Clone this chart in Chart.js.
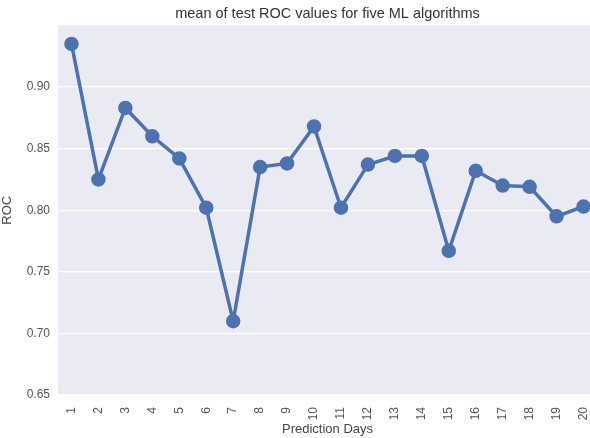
<!DOCTYPE html>
<html>
<head>
<meta charset="utf-8">
<script src="https://cdn.jsdelivr.net/npm/chart.js@4/dist/chart.umd.min.js"></script>
<style>
  html, body { margin: 0; padding: 0; background: #fff; overflow: hidden; }
  #wrap { width: 590px; height: 438px; overflow: hidden; }
  #box { width: 606px; height: 438px; }
</style>
</head>
<body>
<div id="wrap"><div id="box"><canvas id="rocChart"></canvas></div></div>
<script>
const days = ["1","2","3","4","5","6","7","8","9","10","11","12","13","14","15","16","17","18","19","20"];
const meanRoc = [0.935, 0.825, 0.883, 0.860, 0.842, 0.802, 0.710, 0.835, 0.838, 0.868,
                 0.802, 0.837, 0.844, 0.844, 0.767, 0.832, 0.820, 0.819, 0.795, 0.803];
const yTicks = [0.65, 0.70, 0.75, 0.80, 0.85, 0.90];

const ctx = document.getElementById("rocChart").getContext("2d");
const FONT = "'Liberation Sans', Arial, sans-serif";

// seaborn-style grey plot background
const plotBg = {
  id: 'plotBg',
  beforeDraw(chart) {
    const a = chart.chartArea;
    const c = chart.ctx;
    c.save();
    c.fillStyle = '#eaeaf2';
    c.fillRect(a.left, a.top, a.right - a.left, a.bottom - a.top);
    c.restore();
  }
};

new Chart(ctx, {
  type: 'line',
  data: {
    labels: days,
    datasets: [{
      label: 'mean ROC',
      data: meanRoc,
      borderColor: '#4c72b0',
      backgroundColor: '#4c72b0',
      borderWidth: 3.5,
      pointRadius: 5.5,
      pointHoverRadius: 5.5,
      tension: 0
    }]
  },
  options: {
    responsive: true,
    maintainAspectRatio: false,
    animation: false,
    layout: { padding: 0 },
    scales: {
      x: {
        offset: true,
        grid: { display: false },
        border: { display: false },
        ticks: {
          color: '#555',
          font: { family: FONT, size: 12 },
          maxRotation: 90, minRotation: 90,
          padding: 4
        },
        title: {
          display: true, text: 'Prediction Days', color: '#444',
          font: { family: FONT, size: 13 }, padding: { top: 0, bottom: 1 }
        },
        afterFit(s) { s.height = 43; }
      },
      y: {
        min: 0.65, max: 0.95,
        afterBuildTicks(s) { s.ticks = yTicks.map(v => ({ value: v })); },
        grid: { color: '#ffffff', lineWidth: 1.3, drawTicks: false },
        border: { display: false },
        ticks: {
          color: '#555',
          font: { family: FONT, size: 12 },
          padding: 8,
          callback: v => v.toFixed(2)
        },
        title: {
          display: true, text: 'ROC', color: '#444',
          font: { family: FONT, size: 13 }, padding: { top: 0, bottom: 0 }
        },
        afterFit(s) { s.width = 58; }
      }
    },
    plugins: {
      legend: { display: false },
      tooltip: { enabled: false },
      title: {
        display: true,
        fullSize: false,
        text: 'mean of test ROC values for five ML algorithms',
        color: '#333',
        font: { family: FONT, size: 14.5, weight: 'normal' },
        padding: { top: 5, bottom: 3 }
      }
    }
  },
  plugins: [plotBg]
});
</script>
</body>
</html>
